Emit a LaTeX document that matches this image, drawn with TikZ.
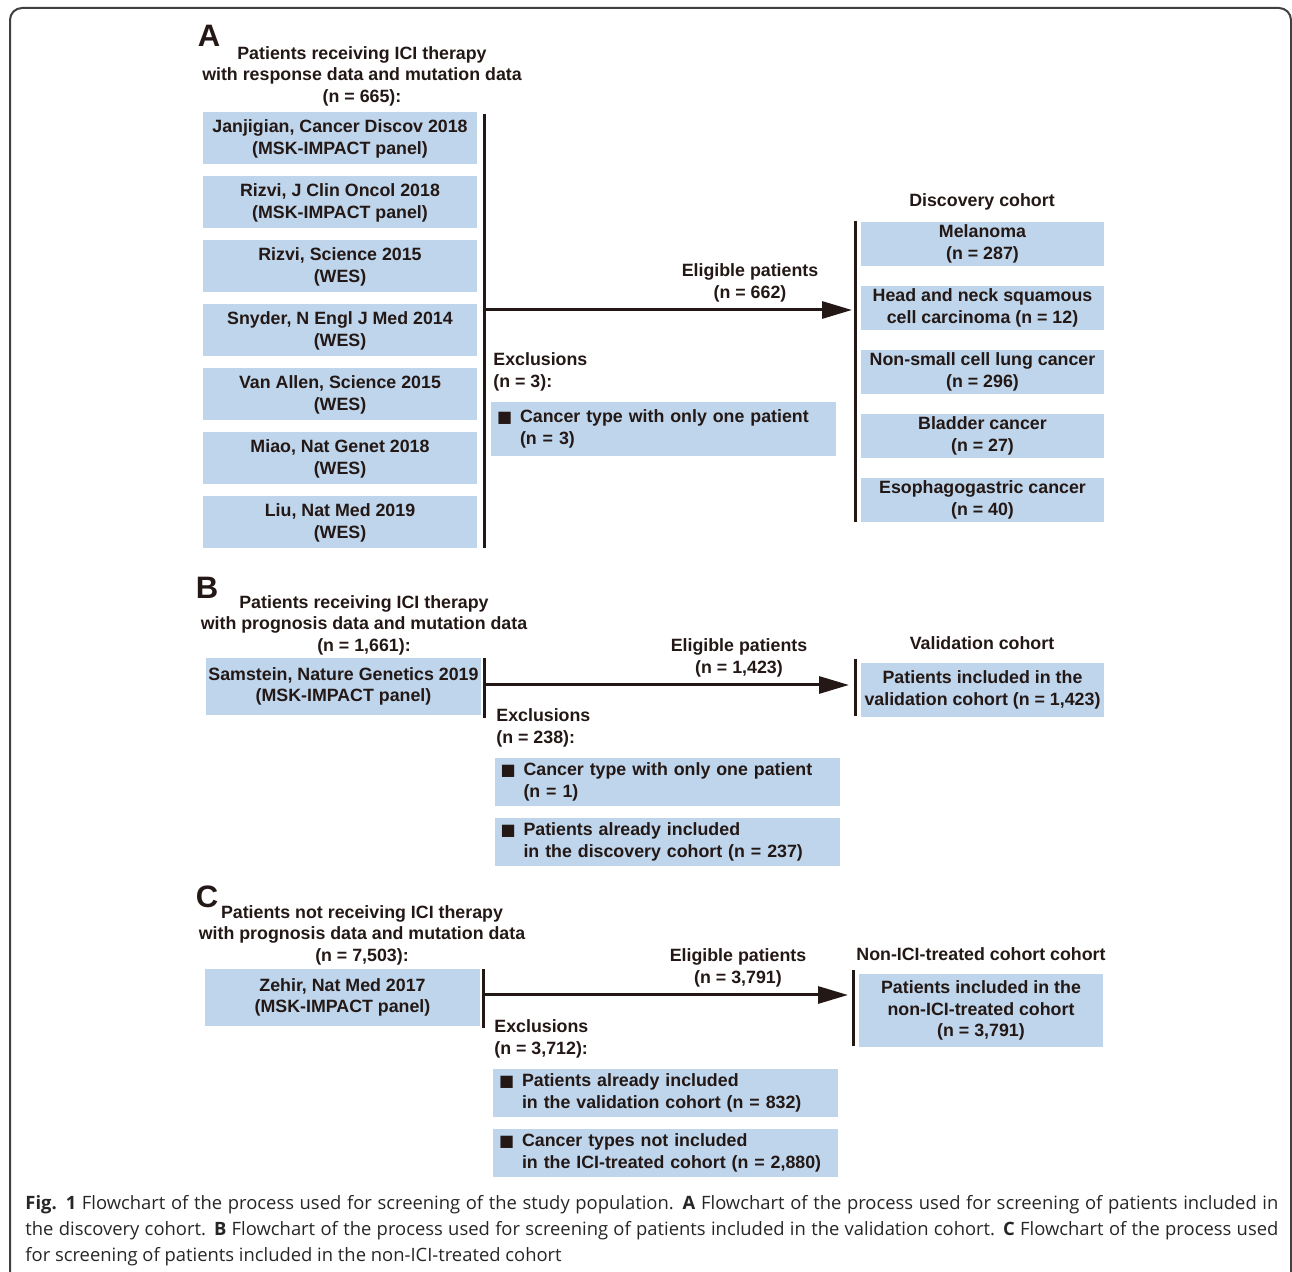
\documentclass[tikz,border=0pt]{standalone}
\usepackage{fontspec}
\setmainfont{Liberation Sans}
\newfontfamily\capfont{Open Sans}
\newfontfamily\symfont{DejaVu Sans}
\usetikzlibrary{arrows.meta}

\definecolor{boxblue}{RGB}{190,213,235}
\definecolor{ink}{RGB}{35,24,21}

\newcommand{\bul}{\makebox[11.5pt][l]{\raisebox{0.3pt}{\symfont\fontsize{8}{8}\selectfont■}}}
\newcommand{\exitem}[2]{\bul#1\\\hspace*{11.5pt}#2}

\begin{document}
\begin{tikzpicture}[
  x=0.5pt, y=-0.5pt,
  txt/.style={font=\fontsize{8.9}{10.75}\selectfont\bfseries, text=ink, inner sep=0pt},
  hdr/.style={txt, align=center},
  box/.style={txt, fill=boxblue, align=center},
  srcbox/.style={box, minimum width=137pt, minimum height=26pt},
  cohbox/.style={box, minimum width=121.5pt, minimum height=22pt},
  exbox/.style={box, align=left, text width=166.5pt, inner xsep=3pt, minimum height=24pt},
  panel/.style={font=\fontsize{15.5}{18}\selectfont\bfseries, text=ink, inner sep=0pt},
  bar/.style={ink, line width=1.5pt},
  flow/.style={ink, line width=1.5pt, -{Triangle[length=15pt,width=8.5pt]}},
  frame/.style={draw=black!75, line width=1pt, rounded corners=6pt},
  capt/.style={font=\capfont\fontsize{9.2}{13}\selectfont, text=black!85,
    text width=626.5pt, align=justify, inner sep=0pt},
]

\useasboundingbox (0,0) rectangle (1292,1272);
\draw[frame] (10,8) rectangle (1291,1300);

% ── A : discovery cohort ────────────────────────────────
\node[panel] (labA) at (209,36) {A};
\node[hdr] (titA) at (362,76)
  {Patients receiving ICI therapy\\with response data and mutation data\\(n = 665):};

\foreach \i/\study/\seq in {
    1/{Janjigian, Cancer Discov 2018}/MSK-IMPACT panel,
    2/{Rizvi, J Clin Oncol 2018}/MSK-IMPACT panel,
    3/{Rizvi, Science 2015}/WES,
    4/{Snyder, N Engl J Med 2014}/WES,
    5/{Van Allen, Science 2015}/WES,
    6/{Miao, Nat Genet 2018}/WES,
    7/{Liu, Nat Med 2019}/WES}
  \node[srcbox, text depth=1pt] (src\i) at (340,{138+64*(\i-1)}) {\study\\(\seq)};

\coordinate (aTop) at (484,114);
\coordinate (aBot) at (484,548);
\draw[bar] (aTop) -- (aBot);
\coordinate (aOut) at (484,310);
\coordinate (aIn)  at (852,310);
\draw[flow] (aOut) -- (aIn);
\node[hdr] (eligA) at (750,283) {Eligible patients\\(n = 662)};

\node[txt, align=left, anchor=west] (exclA) at (493,372) {Exclusions\\(n = 3):};
\node[exbox, minimum height=27pt] (exA) at (663.5,429)
  {\exitem{Cancer type with only one patient}{(n = 3)}};

\node[hdr] (discA) at (982,202) {Discovery cohort};
\coordinate (dTop) at (855,221);
\coordinate (dBot) at (855,522);
\draw[bar] (dTop) -- (dBot);
\foreach \i/\lbl in {
    1/{Melanoma\\(n = 287)},
    2/{Head and neck squamous\\cell carcinoma (n = 12)},
    3/{Non-small cell lung cancer\\(n = 296)},
    4/{Bladder cancer\\(n = 27)},
    5/{Esophagogastric cancer\\(n = 40)}}
  \node[cohbox] (coh\i) at (982.5,{244+64*(\i-1)}) {\lbl};

% ── B : validation cohort ───────────────────────────────
\node[panel] (labB) at (207,588) {B};
\node[hdr] (titB) at (364,625)
  {Patients receiving ICI therapy\\with prognosis data and mutation data\\(n = 1,661):};
\node[srcbox, minimum width=137.5pt, minimum height=28.5pt] (samB) at (343.5,686.5)
  {Samstein, Nature Genetics 2019\\(MSK-IMPACT panel)};

\coordinate (bTop) at (484,658);
\coordinate (bBot) at (484,718);
\draw[bar] (bTop) -- (bBot);
\coordinate (bOut) at (484,685);
\coordinate (bIn)  at (849,685);
\draw[flow] (bOut) -- (bIn);
\node[hdr] (eligB) at (739,658) {Eligible patients\\(n = 1,423)};

\node[hdr] (valB) at (982,643) {Validation cohort};
\coordinate (vTop) at (855,659);
\coordinate (vBot) at (855,716);
\draw[bar] (vTop) -- (vBot);
\node[cohbox, minimum height=27pt] (valbox) at (982.5,690)
  {Patients included in the\\validation cohort (n = 1,423)};

\node[txt, align=left, anchor=west] (exclB) at (496,728) {Exclusions\\(n = 238):};
\node[exbox] (exB1) at (667,782)
  {\exitem{Cancer type with only one patient}{(n = 1)}};
\node[exbox] (exB2) at (667,842)
  {\exitem{Patients already included}{in the discovery cohort (n = 237)}};

% ── C : non-ICI-treated cohort ──────────────────────────
\node[panel] (labC) at (207,897) {C};
\node[hdr] (titC) at (362,935)
  {Patients not receiving ICI therapy\\with prognosis data and mutation data\\(n = 7,503):};
\node[srcbox, minimum width=137.5pt, minimum height=28.5pt] (zehC) at (342.5,997.5)
  {Zehir, Nat Med 2017\\(MSK-IMPACT panel)};

\coordinate (cTop) at (483,969);
\coordinate (cBot) at (483,1028);
\draw[bar] (cTop) -- (cBot);
\coordinate (cOut) at (483,995);
\coordinate (cIn)  at (848,995);
\draw[flow] (cOut) -- (cIn);
\node[hdr] (eligC) at (738,968) {Eligible patients\\(n = 3,791)};

\node[hdr] (nonC) at (981,954) {Non-ICI-treated cohort cohort};
\coordinate (nTop) at (853,970);
\coordinate (nBot) at (853,1046);
\draw[bar] (nTop) -- (nBot);
\node[cohbox, minimum width=122pt, minimum height=36.5pt] (nonbox) at (981,1010.5)
  {Patients included in the\\non-ICI-treated cohort\\(n = 3,791)};

\node[txt, align=left, anchor=west] (exclC) at (494,1039) {Exclusions\\(n = 3,712):};
\node[exbox] (exC1) at (665.5,1093)
  {\exitem{Patients already included}{in the validation cohort (n = 832)}};
\node[exbox] (exC2) at (665.5,1153)
  {\exitem{Cancer types not included}{in the ICI-treated cohort (n = 2,880)}};

% ── caption ─────────────────────────────────────────────
\node[capt, anchor=north west] (cap) at (25,1195)
  {\hyphenpenalty=10000\exhyphenpenalty=10000
   \textbf{Fig. 1} Flowchart of the process used for screening of the study population.
   \textbf{A} Flowchart of the process used for screening of patients included in\linebreak
   the discovery cohort. \textbf{B} Flowchart of the process used for screening of patients
   included in the validation cohort. \textbf{C} Flowchart of the process used\linebreak
   for screening of patients included in the non-ICI-treated cohort};

\end{tikzpicture}
\end{document}
